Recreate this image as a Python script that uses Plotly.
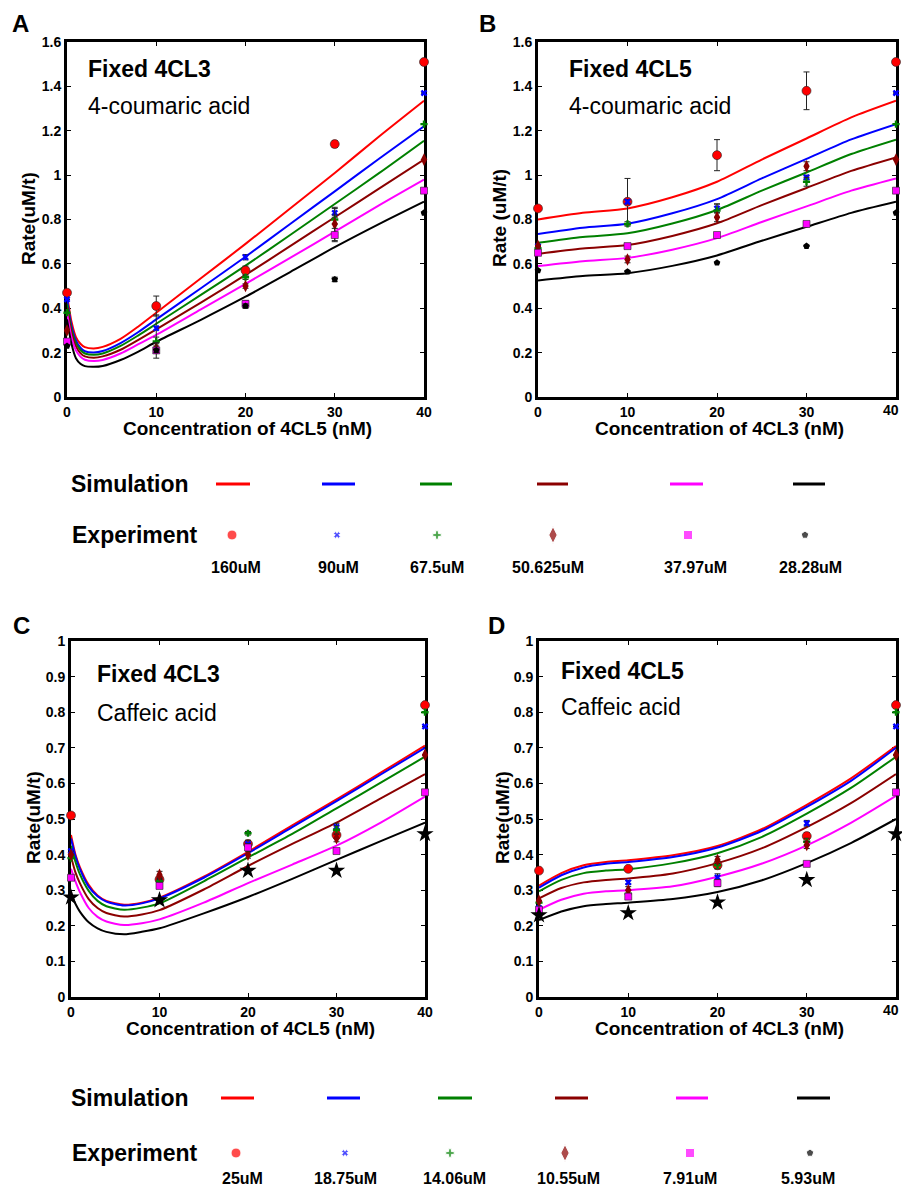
import plotly.graph_objects as go

W, H = 902, 1191
FONT = "Liberation Sans, Arial, Helvetica, sans-serif"

# ---------------- data ----------------
EXP_X = [0, 10, 20, 30, 40]
X_TICKS = [0, 10, 20, 30, 40]
SERIES_COLORS = ["#ff0000", "#0000ff", "#008000", "#8b0000", "#ff00ff", "#000000"]
LABELS_TOP = ["160uM", "90uM", "67.5uM", "50.625uM", "37.97uM", "28.28uM"]
LABELS_BOTTOM = ["25uM", "18.75uM", "14.06uM", "10.55uM", "7.91uM", "5.93uM"]

# Panel A: Fixed 4CL3, 4-coumaric acid (x = 4CL5 nM)
A_SIM_X = [0, 0.5, 1, 1.5, 2, 3, 4, 6, 8, 10, 15, 20, 25, 30, 35, 40]
A_SIM_Y = [
    [0.46, 0.34, 0.27, 0.24, 0.225, 0.219, 0.226, 0.262, 0.318, 0.38, 0.535, 0.69, 0.85, 1.01, 1.175, 1.335],
    [0.44, 0.32, 0.255, 0.222, 0.206, 0.20, 0.207, 0.243, 0.293, 0.35, 0.49, 0.632, 0.78, 0.927, 1.075, 1.22],
    [0.42, 0.305, 0.243, 0.212, 0.196, 0.19, 0.196, 0.23, 0.278, 0.33, 0.46, 0.592, 0.73, 0.87, 1.01, 1.155],
    [0.40, 0.29, 0.228, 0.198, 0.183, 0.177, 0.183, 0.213, 0.258, 0.305, 0.425, 0.55, 0.68, 0.81, 0.94, 1.07],
    [0.38, 0.27, 0.21, 0.182, 0.168, 0.162, 0.167, 0.196, 0.238, 0.28, 0.395, 0.51, 0.627, 0.745, 0.865, 0.98],
    [0.35, 0.24, 0.175, 0.15, 0.139, 0.136, 0.14, 0.167, 0.205, 0.249, 0.348, 0.452, 0.563, 0.675, 0.78, 0.88],
]
A_EXP_Y = [
    [0.47, 0.41, 0.57, 1.14, 1.51],
    [0.44, 0.31, 0.63, 0.83, 1.37],
    [0.38, 0.25, 0.54, 0.80, 1.23],
    [0.30, 0.22, 0.50, 0.78, 1.07],
    [0.25, 0.21, 0.42, 0.73, 0.93],
    [0.23, 0.21, 0.41, 0.53, 0.83],
]
A_EXP_ERR = [
    [0.01, 0.045, 0.02, 0.015, 0.0],
    [0.0, 0.06, 0.012, 0.02, 0.0],
    [0.0, 0.02, 0.01, 0.02, 0.0],
    [0.0, 0.02, 0.01, 0.075, 0.0],
    [0.0, 0.035, 0.015, 0.03, 0.0],
    [0.0, 0.01, 0.01, 0.01, 0.0],
]

# Panel B: Fixed 4CL5, 4-coumaric acid (x = 4CL3 nM)
B_SIM_X = [0, 5, 10, 15, 20, 25, 30, 35, 40]
B_SIM_Y = [
    [0.80, 0.83, 0.85, 0.90, 0.97, 1.07, 1.165, 1.26, 1.335],
    [0.735, 0.763, 0.781, 0.828, 0.892, 0.985, 1.073, 1.161, 1.23],
    [0.695, 0.721, 0.738, 0.782, 0.843, 0.93, 1.012, 1.095, 1.16],
    [0.645, 0.669, 0.685, 0.726, 0.783, 0.865, 0.942, 1.019, 1.08],
    [0.59, 0.612, 0.627, 0.664, 0.716, 0.789, 0.859, 0.93, 0.985],
    [0.525, 0.545, 0.558, 0.591, 0.638, 0.704, 0.767, 0.83, 0.88],
]
B_EXP_Y = [
    [0.85, 0.88, 1.09, 1.38, 1.51],
    [0.68, 0.88, 0.85, 0.99, 1.37],
    [0.67, 0.78, 0.84, 0.97, 1.23],
    [0.68, 0.62, 0.81, 1.04, 1.07],
    [0.65, 0.68, 0.73, 0.78, 0.93],
    [0.57, 0.565, 0.605, 0.68, 0.83],
]
B_EXP_ERR = [
    [0.0, 0.105, 0.07, 0.085, 0.0],
    [0.0, 0.01, 0.02, 0.01, 0.0],
    [0.0, 0.01, 0.03, 0.02, 0.0],
    [0.0, 0.015, 0.02, 0.02, 0.0],
    [0.0, 0.01, 0.01, 0.01, 0.0],
    [0.0, 0.0, 0.0, 0.0, 0.0],
]

# Panel C: Fixed 4CL3, caffeic acid (x = 4CL5 nM)
C_SIM_X = [0, 0.5, 1, 2, 3, 4, 6, 8, 10, 15, 20, 25, 30, 35, 40]
C_SIM_Y = [
    [0.455, 0.40, 0.365, 0.315, 0.285, 0.27, 0.259, 0.265, 0.279, 0.338, 0.408, 0.482, 0.555, 0.63, 0.706],
    [0.445, 0.395, 0.36, 0.31, 0.283, 0.268, 0.257, 0.263, 0.277, 0.335, 0.404, 0.477, 0.55, 0.625, 0.70],
    [0.425, 0.38, 0.345, 0.298, 0.27, 0.255, 0.245, 0.251, 0.263, 0.325, 0.392, 0.458, 0.53, 0.602, 0.675],
    [0.395, 0.35, 0.32, 0.275, 0.25, 0.236, 0.226, 0.232, 0.244, 0.302, 0.368, 0.43, 0.49, 0.558, 0.626],
    [0.36, 0.325, 0.295, 0.25, 0.225, 0.212, 0.202, 0.207, 0.218, 0.265, 0.32, 0.372, 0.425, 0.49, 0.563],
    [0.29, 0.262, 0.24, 0.21, 0.193, 0.183, 0.176, 0.183, 0.193, 0.235, 0.281, 0.332, 0.385, 0.438, 0.49],
]
C_EXP_Y = [
    [0.51, 0.33, 0.43, 0.455, 0.82],
    [0.41, 0.32, 0.43, 0.478, 0.76],
    [0.39, 0.325, 0.46, 0.47, 0.80],
    [0.40, 0.343, 0.40, 0.446, 0.68],
    [0.335, 0.312, 0.42, 0.41, 0.575],
    [0.28, 0.272, 0.355, 0.355, 0.458],
]
C_EXP_ERR = [
    [0.005, 0.01, 0.01, 0.01, 0.005],
    [0.0, 0.01, 0.01, 0.01, 0.0],
    [0.0, 0.01, 0.005, 0.01, 0.0],
    [0.0, 0.01, 0.01, 0.01, 0.0],
    [0.0, 0.005, 0.01, 0.005, 0.0],
    [0.0, 0.0, 0.0, 0.0, 0.0],
]

# Panel D: Fixed 4CL5, caffeic acid (x = 4CL3 nM)
D_SIM_X = [0, 2.5, 5, 7.5, 10, 15, 20, 25, 30, 35, 40]
D_SIM_Y = [
    [0.313, 0.348, 0.37, 0.379, 0.384, 0.398, 0.424, 0.472, 0.54, 0.615, 0.705],
    [0.307, 0.342, 0.364, 0.374, 0.379, 0.393, 0.42, 0.467, 0.534, 0.608, 0.70],
    [0.297, 0.329, 0.348, 0.355, 0.359, 0.376, 0.404, 0.45, 0.515, 0.588, 0.675],
    [0.277, 0.306, 0.322, 0.329, 0.333, 0.347, 0.376, 0.418, 0.477, 0.545, 0.626],
    [0.245, 0.273, 0.29, 0.297, 0.30, 0.311, 0.338, 0.375, 0.426, 0.49, 0.565],
    [0.216, 0.24, 0.255, 0.261, 0.265, 0.275, 0.295, 0.328, 0.376, 0.433, 0.50],
]
D_EXP_Y = [
    [0.355, 0.36, 0.37, 0.452, 0.82],
    [0.25, 0.322, 0.336, 0.488, 0.76],
    [0.265, 0.29, 0.37, 0.436, 0.80],
    [0.27, 0.30, 0.385, 0.427, 0.68],
    [0.245, 0.282, 0.32, 0.374, 0.575],
    [0.23, 0.236, 0.266, 0.329, 0.458],
]
D_EXP_ERR = [
    [0.005, 0.005, 0.01, 0.01, 0.005],
    [0.0, 0.005, 0.01, 0.008, 0.0],
    [0.0, 0.01, 0.01, 0.01, 0.0],
    [0.0, 0.01, 0.01, 0.01, 0.0],
    [0.0, 0.005, 0.01, 0.005, 0.0],
    [0.0, 0.0, 0.0, 0.0, 0.0],
]

# ---------------- styling / layout ----------------
SYMBOLS_AB = ["circle", "x", "cross", "diamond-tall", "square", "pentagon"]
SYMBOLS_CD = ["circle", "x", "cross", "diamond-tall", "square", "star"]
SIZES_AB = [9, 6, 6, 9, 7, 7]
SIZES_CD = [9, 6, 6, 9, 7, 13]

# panel pixel boxes: left, right, top, bottom
PANELS = [
    dict(box=(67, 424, 42, 397), sim_x=A_SIM_X, sim=A_SIM_Y, exp=A_EXP_Y, err=A_EXP_ERR,
         ymax=1.6, dtick=0.2, sym=SYMBOLS_AB, sz=SIZES_AB),
    dict(box=(538, 896, 42, 397), sim_x=B_SIM_X, sim=B_SIM_Y, exp=B_EXP_Y, err=B_EXP_ERR,
         ymax=1.6, dtick=0.2, sym=SYMBOLS_AB, sz=SIZES_AB),
    dict(box=(71, 425, 641, 997), sim_x=C_SIM_X, sim=C_SIM_Y, exp=C_EXP_Y, err=C_EXP_ERR,
         ymax=1.0, dtick=0.1, sym=SYMBOLS_CD, sz=SIZES_CD),
    dict(box=(539, 896, 641, 997), sim_x=D_SIM_X, sim=D_SIM_Y, exp=D_EXP_Y, err=D_EXP_ERR,
         ymax=1.0, dtick=0.1, sym=SYMBOLS_CD, sz=SIZES_CD),
]

fig = go.Figure()
layout_axes = {}

for i, p in enumerate(PANELS):
    n = i + 1
    xa = "x" if n == 1 else f"x{n}"
    ya = "y" if n == 1 else f"y{n}"
    l, r, t, b = p["box"]
    common = dict(showline=True, linewidth=3, linecolor="black", mirror="allticks",
                  ticks="inside", ticklen=4, tickwidth=1, tickcolor="black",
                  showgrid=False, zeroline=False, layer="below traces", automargin=False,
                  tickfont=dict(family=FONT, size=14, color="black", weight="bold"))
    layout_axes["xaxis" if n == 1 else f"xaxis{n}"] = dict(
        domain=[l / W, r / W], range=[0, 40], tickvals=X_TICKS,
        anchor=ya, **common)
    layout_axes["yaxis" if n == 1 else f"yaxis{n}"] = dict(
        domain=[1 - b / H, 1 - t / H], range=[0, p["ymax"]], dtick=p["dtick"], tick0=0,
        anchor=xa, **common)
    for s in range(6):
        fig.add_trace(go.Scatter(
            x=p["sim_x"], y=p["sim"][s], mode="lines", xaxis=xa, yaxis=ya,
            line=dict(color=SERIES_COLORS[s], width=2, shape="spline", smoothing=0.7),
            showlegend=False, hoverinfo="skip"))
    for s in range(6):
        fig.add_trace(go.Scatter(
            x=EXP_X, y=p["exp"][s], mode="markers", xaxis=xa, yaxis=ya, cliponaxis=False,
            marker=dict(symbol=p["sym"][s], size=p["sz"][s], color=SERIES_COLORS[s],
                        line=dict(width=0.6, color="#222222") if s in (0, 4) else dict(width=0)),
            error_y=dict(type="data", array=p["err"][s], visible=True, color="#222222",
                         thickness=1, width=3),
            showlegend=False))

# overlay axis in pixel coordinates for the custom legends
layout_axes["xaxis5"] = dict(domain=[0, 1], range=[0, W], visible=False, anchor="y5", automargin=False)
layout_axes["yaxis5"] = dict(domain=[0, 1], range=[H, 0], visible=False, anchor="x5", automargin=False)

LEG_TOP = dict(sim_y=484, exp_y=535, lab_y=567,
               line_x=[(216, 250), (322, 355), (420, 452), (537, 568), (670, 703), (793, 825)],
               mark_x=[232, 337, 437, 553, 688, 805], lab_x=[236, 338, 437, 548, 695, 810],
               labels=LABELS_TOP)
LEG_BOT = dict(sim_y=1098, exp_y=1153, lab_y=1178,
               line_x=[(221, 254), (327, 360), (438, 472), (555, 588), (676, 708), (797, 830)],
               mark_x=[236, 345, 450, 565, 690, 810], lab_x=[242, 345, 455, 568, 690, 808],
               labels=LABELS_BOTTOM)

shapes = []
annotations = []


def ann(x, y, text, size, bold=True, xanchor="center", textangle=0):
    annotations.append(dict(
        x=x / W, y=1 - y / H, xref="paper", yref="paper", text=text, showarrow=False,
        xanchor=xanchor, yanchor="middle", textangle=textangle,
        font=dict(family=FONT, size=size, color="black", weight="bold" if bold else "normal")))


LEG_SYMBOLS = ["circle", "x", "cross", "diamond-tall", "square", "pentagon"]
LEG_SIZES = [10, 6, 7, 12, 9, 8]
for leg in (LEG_TOP, LEG_BOT):
    for s in range(6):
        x0, x1 = leg["line_x"][s]
        shapes.append(dict(type="line", xref="x5", yref="y5", x0=x0, x1=x1,
                           y0=leg["sim_y"], y1=leg["sim_y"],
                           line=dict(color=SERIES_COLORS[s], width=3)))
        ann(leg["lab_x"][s], leg["lab_y"], leg["labels"][s], 16)
    fig.add_trace(go.Scatter(
        x=leg["mark_x"], y=[leg["exp_y"]] * 6, mode="markers", xaxis="x5", yaxis="y5",
        marker=dict(symbol=LEG_SYMBOLS, size=LEG_SIZES, color=SERIES_COLORS),
        showlegend=False, hoverinfo="skip"))
    ann(130, leg["sim_y"], "Simulation", 23)
    ann(135, leg["exp_y"], "Experiment", 23)

# panel letters
ann(20, 24, "A", 24)
ann(487, 24, "B", 24)
ann(21, 625, "C", 24)
ann(496, 625, "D", 24)

# in-panel texts
ann(86, 69, "Fixed 4CL3", 23, xanchor="left")
ann(86, 106, "4-coumaric acid", 23, bold=False, xanchor="left")
ann(567, 69, "Fixed 4CL5", 23, xanchor="left")
ann(567, 106, "4-coumaric acid", 23, bold=False, xanchor="left")
ann(95, 674, "Fixed 4CL3", 23, xanchor="left")
ann(95, 713, "Caffeic acid", 23, bold=False, xanchor="left")
ann(559, 671, "Fixed 4CL5", 23, xanchor="left")
ann(559, 707, "Caffeic acid", 23, bold=False, xanchor="left")

# right-edge "40" tick labels of B and D, kept just inside the page edge
ann(901, 410, str(X_TICKS[-1]), 14, xanchor="right")
ann(901, 1010, str(X_TICKS[-1]), 14, xanchor="right")

# axis titles
ann(247, 428, "Concentration of 4CL5 (nM)", 19)
ann(719, 428, "Concentration of 4CL3 (nM)", 19)
ann(250, 1028, "Concentration of 4CL5 (nM)", 19)
ann(719, 1028, "Concentration of 4CL3 (nM)", 19)
ann(29, 219, "Rate(uM/t)", 19, textangle=-90)
ann(499, 218, "Rate (uM/t)", 19, textangle=-90)
ann(33, 818, "Rate(uM/t)", 19, textangle=-90)
ann(502, 818, "Rate(uM/t)", 19, textangle=-90)

fig.update_layout(
    width=W, height=H, margin=dict(l=0, r=0, t=0, b=0, autoexpand=False),
    paper_bgcolor="white", plot_bgcolor="rgba(0,0,0,0)",
    showlegend=False, shapes=shapes, annotations=annotations,
    **layout_axes)

# remove the browser's default 8px page margin so the figure fills the window exactly
PAGE_JS = ("document.body.style.margin='0';document.body.style.padding='0';"
           "document.body.style.overflow='hidden';"
           "document.documentElement.style.overflow='hidden';")

fig.write_html("out.html", post_script=PAGE_JS, config={"displayModeBar": False})
